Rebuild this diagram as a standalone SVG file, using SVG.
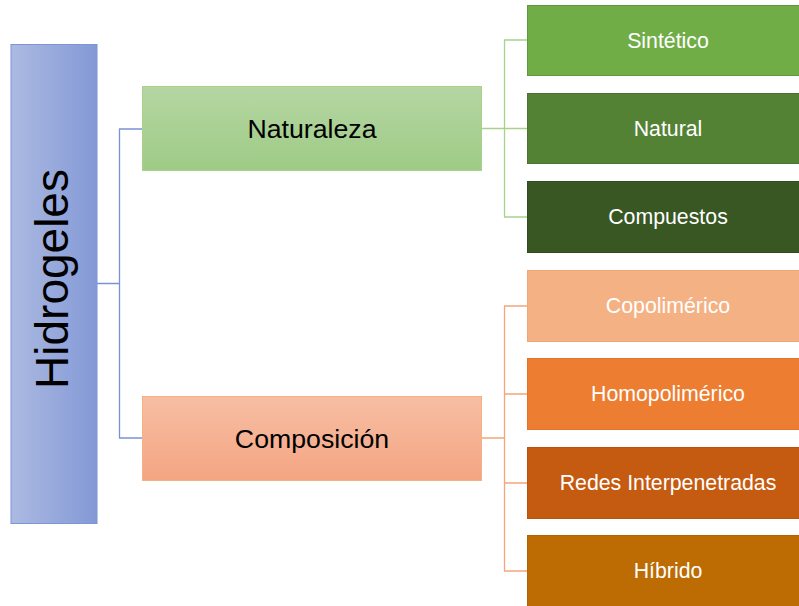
<svg xmlns="http://www.w3.org/2000/svg" width="799" height="606" viewBox="0 0 799 606">
<defs>
<linearGradient id="gRoot" x1="0" y1="0" x2="1" y2="0"><stop offset="0" stop-color="#ACBAE2"/><stop offset="1" stop-color="#8399D6"/></linearGradient>
<linearGradient id="gNat" x1="0" y1="0" x2="0" y2="1"><stop offset="0" stop-color="#B4D6A3"/><stop offset="1" stop-color="#9FCB85"/></linearGradient>
<linearGradient id="gCom" x1="0" y1="0" x2="0" y2="1"><stop offset="0" stop-color="#F7BEA4"/><stop offset="1" stop-color="#F4A582"/></linearGradient>
</defs>
<style>
text{font-family:"Liberation Sans",Arial,sans-serif;text-anchor:middle}
.lbl{font-size:21.3px;fill:#FFFFFF}
.mid{font-size:26.7px;fill:#000000}
.cb{fill:none;stroke:#7A92D4;stroke-width:1.3}
.cg{fill:none;stroke:#A9D18E;stroke-width:1.3}
.co{fill:none;stroke:#F4A67A;stroke-width:1.3}
</style>
<rect width="799" height="606" fill="#FFFFFF"/>
<g id="connectors">
<path class="cb" d="M97 283.5H119.5M119.5 129V438M119 129H143M119 438H143"/>
<path class="cg" d="M482 128.5H504.5M504.5 40V217M504 40H528M504 128.5H528M504 217H528"/>
<path class="co" d="M482 438H504.5M504.5 306V571M504 306H528M504 394H528M504 483H528M504 571H528"/>
</g>
<g id="hidrogeles">
<rect x="11" y="44.5" width="86" height="479" fill="url(#gRoot)" stroke="#7D94D5" stroke-width="1"/>
<text transform="translate(68 279) rotate(-90)" style="font-size:46px;fill:#000">Hidrogeles</text>
</g>
<g id="naturaleza">
<rect x="142.5" y="86.5" width="339" height="84" fill="url(#gNat)" stroke="#A9D18E" stroke-width="1"/>
<text class="mid" x="312" y="138">Naturaleza</text>
</g>
<g id="composicion">
<rect x="142.5" y="396.5" width="339" height="84" fill="url(#gCom)" stroke="#F4B183" stroke-width="1"/>
<text class="mid" x="312" y="448">Composición</text>
</g>
<g id="sintetico">
<rect x="527.5" y="5.5" width="282" height="70" fill="#70AD47" stroke="#5E9A3A" stroke-width="1"/>
<text class="lbl" x="668" y="47.7">Sintético</text>
</g>
<g id="natural">
<rect x="527.5" y="93.5" width="282" height="70" fill="#548235" stroke="#4A742F" stroke-width="1"/>
<text class="lbl" x="668" y="135.7">Natural</text>
</g>
<g id="compuestos">
<rect x="527.5" y="181.5" width="282" height="71" fill="#385723" stroke="#314D1F" stroke-width="1"/>
<text class="lbl" x="668" y="224">Compuestos</text>
</g>
<g id="copolimerico">
<rect x="527.5" y="270.5" width="282" height="71" fill="#F4B183" stroke="#F2A772" stroke-width="1"/>
<text class="lbl" x="668" y="313">Copolimérico</text>
</g>
<g id="homopolimerico">
<rect x="527.5" y="358.5" width="282" height="71" fill="#ED7D31" stroke="#E5732A" stroke-width="1"/>
<text class="lbl" x="668" y="401">Homopolimérico</text>
</g>
<g id="redes">
<rect x="527.5" y="447.5" width="282" height="71" fill="#C55A11" stroke="#B9530F" stroke-width="1"/>
<text class="lbl" x="668" y="490">Redes Interpenetradas</text>
</g>
<g id="hibrido">
<rect x="527.5" y="535.5" width="282" height="80" fill="#BC6C02" stroke="#B06500" stroke-width="1"/>
<text class="lbl" x="668" y="578">Híbrido</text>
</g>
</svg>
